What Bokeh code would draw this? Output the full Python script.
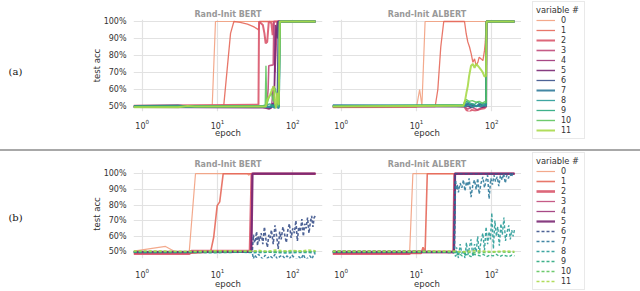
from bokeh.plotting import figure
from bokeh.layouts import row, column
from bokeh.models import Range1d, FixedTicker, NumeralTickFormatter, Legend, LegendItem, Label, Div
from bokeh.embed import file_html
from bokeh.resources import INLINE

# ---------------- data (test accuracy in %, per variable #) ----------------
VARIABLES = [str(i) for i in range(12)]
Y_TICKS = [0.5, 0.6, 0.7, 0.8, 0.9, 1.0]
PANEL_TITLES = ["Rand-Init BERT", "Rand-Init ALBERT"]
ROW_TAGS = ["(a)", "(b)"]

# (a) Rand-Init BERT
A_BERT_X = [
    [0.77, 8.5, 9.4, 200],
    [0.77, 12.1, 14.9, 16.5, 20, 25, 30, 33.7, 35, 36.5, 200],
    [0.77, 35, 35.6, 40, 42, 43.6, 45.7, 48, 52, 54, 56, 200],
    [0.77, 45, 47, 48, 55, 56, 58, 62, 200],
    [0.77, 40, 48, 52, 55, 57, 60, 63, 200],
    [0.77, 45, 50, 54, 56, 59, 62, 64, 200],
    [0.77, 3, 4, 6, 45, 52, 58, 62, 64, 200],
    [0.77, 40, 50, 55, 60, 65, 67, 200],
    [0.77, 45, 52, 58, 63, 66, 68, 200],
    [0.77, 40, 50, 56, 62, 66, 68, 200],
    [0.77, 43, 44, 45, 48, 52, 55, 58, 62, 65, 68, 200],
    [0.77, 3, 4, 5, 44, 46, 50, 53, 56, 58, 60, 62, 65, 67, 200],
]
A_BERT_Y = [
    [49.8, 50, 100, 100],
    [50, 50.5, 93, 100, 99.5, 98.5, 97, 95.7, 95, 100, 100],
    [50.5, 51, 100, 98, 93, 87.2, 88, 100, 99, 92, 100, 100],
    [50, 50, 60, 74, 74.5, 100, 70, 100, 100],
    [49.7, 49.5, 48.5, 49, 62, 55, 95, 100, 100],
    [49.5, 49.3, 48.8, 52, 49, 98, 90, 100, 100],
    [50.5, 50.8, 50.2, 50.5, 50.3, 49.5, 50, 51, 100, 100],
    [50, 50.2, 49.5, 51, 50, 49, 100, 100],
    [49.5, 49.8, 50.5, 49, 52, 50, 100, 100],
    [50.2, 50.5, 51.5, 50, 52, 49.5, 100, 100],
    [50, 50, 74, 51, 55, 58, 53, 61, 56, 50, 100, 100],
    [49.5, 49.5, 50.3, 50, 50, 54, 57, 60, 62, 52, 49, 58, 51, 100, 100],
]

# (a) Rand-Init ALBERT
A_ALBERT_X = [
    [0.77, 10, 11, 11.8, 13, 200],
    [0.77, 17.7, 19.2, 21, 23, 43.4, 45.7, 48, 50.6, 53.3, 56.1, 59, 62, 65.3, 68, 72.3, 76.2, 80, 82, 84.3, 200],
    [0.77, 30, 43, 46, 50, 54, 60, 70, 80, 84, 85, 200],
    [0.77, 43, 48, 55, 65, 75, 84, 85, 200],
    [0.77, 43, 50, 60, 70, 84, 85, 200],
    [0.77, 45, 55, 65, 75, 84, 85, 200],
    [0.77, 44, 48, 52, 58, 64, 70, 77, 84, 85, 200],
    [0.77, 44, 47, 52, 56, 62, 68, 75, 84, 85, 200],
    [0.77, 45, 50, 55, 62, 70, 78, 84, 85, 200],
    [0.77, 43, 46, 52, 58, 64, 72, 84, 85, 200],
    [0.77, 42, 44, 46, 50, 55, 62, 68, 75, 82, 84, 85, 200],
    [0.77, 42, 44, 46, 48, 50, 53, 56, 59, 62, 65, 68, 72, 76, 80, 84, 85, 200],
]
A_ALBERT_Y = [
    [49.3, 49.5, 60, 50.5, 100, 100],
    [49.5, 50, 60, 85, 100, 100, 92.8, 88, 85, 81, 76, 78, 74, 76, 79, 78, 77, 83, 88, 100, 100],
    [50, 50.5, 50, 48, 46.5, 48, 47.5, 48.5, 49, 50, 100, 100],
    [50.2, 50, 48.5, 49.5, 48, 49.5, 50, 100, 100],
    [49.8, 50, 51.5, 50, 51, 50.5, 100, 100],
    [50, 50.3, 49.5, 50.5, 49.5, 50, 100, 100],
    [50.5, 50.5, 51.5, 49.5, 51, 50, 51.5, 50.5, 51, 100, 100],
    [50.8, 50.5, 52, 50.5, 51.5, 50, 51.5, 50.5, 51, 100, 100],
    [50.3, 50, 51, 49.5, 50.5, 49.8, 50.8, 50, 100, 100],
    [50.5, 51, 53, 52, 51, 52.5, 51.5, 52, 100, 100],
    [50, 51, 53.5, 54, 53, 53.5, 52.5, 53, 52, 53, 52, 100, 100],
    [50, 50.5, 53, 58, 62, 68, 74, 75, 72.7, 75, 74, 73, 71.6, 70, 67.6, 68, 100, 100],
]

# (b) Rand-Init BERT
B_BERT_X = [
    [0.77, 2.04, 2.9, 4.2, 5.1, 25, 26, 27, 200],
    [0.77, 4, 8.1, 8.9, 9.9, 10.7, 11.9, 200],
    [0.77, 4.2, 4.5, 27, 28.5, 200],
    [0.77, 28, 28.8, 200],
    [0.77, 28, 29, 200],
    [0.77, 28.2, 29.2, 200],
    [0.77, 28, 29, 30, 31, 32, 33, 34, 35, 36, 38, 40, 42, 44, 46, 48, 50, 52, 55, 58, 61, 64, 67,
     70, 74, 78, 82, 86, 90, 95, 100, 105, 110, 115, 120, 126, 132, 138, 144, 150, 157, 164, 171,
     178, 185, 192, 200],
    [0.77, 28, 29, 30, 31, 33, 35, 37, 40, 43, 46, 50, 54, 58, 62, 67, 72, 78, 84, 90, 97, 104, 112,
     120, 129, 138, 148, 158, 169, 180, 190, 200],
    [0.77, 10, 20, 30, 50, 80, 120, 200],
    [0.77, 30, 60, 100, 200],
    [0.77, 8, 30, 60, 100, 150, 200],
    [0.77, 5, 10, 30, 35, 45, 60, 80, 100, 130, 160, 200],
]
B_BERT_Y = [
    [50.5, 53.5, 49.5, 49.5, 100, 100, 99, 100, 100],
    [49, 49, 50, 59.4, 79.6, 82, 100, 100],
    [48.8, 48.8, 50.5, 50.5, 100, 100],
    [50, 50, 100, 100],
    [50.3, 50.3, 100, 100],
    [49.8, 50, 100, 100],
    [50, 50, 50.5, 61, 56, 58, 63, 54, 60, 57, 62, 55, 66, 58, 53, 61, 59, 64, 55, 67, 60, 52, 63,
     58, 66, 61, 56, 64, 68, 59, 65, 62, 70, 57, 66, 63, 71, 60, 68, 65, 72, 62, 69,
     73, 66, 72, 73],
    [50, 50, 49.5, 45.5, 48, 46.5, 48.5, 47, 45.5, 48, 46, 47.5, 46, 48.5, 45.5, 47, 48, 46, 47.5, 45.5, 48, 46.5, 45,
     47, 45.5, 48.5, 45, 46, 47.5, 45.5, 48.5, 49],
    [49.7, 49.5, 49.8, 49.5, 49.8, 49.3, 49.6, 49.5],
    [50, 50.2, 49.8, 50, 50.2],
    [50.3, 50, 50.5, 50.2, 50.6, 50.3, 50.5],
    [50.6, 50.4, 50.8, 50.5, 51, 50.4, 51.2, 50.6, 51, 50.5, 51.2, 50.8],
]

# (b) Rand-Init ALBERT
B_ALBERT_X = [
    [0.77, 8.1, 8.95, 200],
    [0.77, 11.5, 12.2, 13, 13.9, 200],
    [0.77, 8, 8.5, 31, 32, 200],
    [0.77, 31.5, 32.5, 200],
    [0.77, 31.5, 32.5, 200],
    [0.77, 31.5, 32.5, 200],
    [0.77, 12, 31.5, 32.5, 200],
    [0.77, 32, 33, 34, 35, 36, 38, 40, 42, 44, 46, 48, 50, 53, 56, 59, 62, 65, 68, 72, 76, 80, 84,
     88, 92, 97, 102, 107, 112, 118, 124, 130, 137, 144, 151, 158, 166, 174, 182, 190, 200],
    [0.77, 32, 33, 34, 36, 38, 40, 42, 44, 46, 48, 50, 53, 56, 59, 62, 65, 68, 72, 76, 80, 84, 88,
     92, 96, 100, 105, 110, 115, 120, 126, 132, 138, 145, 152, 160, 168, 176, 184, 192, 200],
    [0.77, 32, 34, 37, 40, 44, 48, 53, 58, 64, 70, 77, 85, 94, 104, 115, 127, 140, 155, 170, 185, 200],
    [0.77, 32, 60, 120, 200],
    [0.77, 32, 40, 60, 100, 150, 200],
]
B_ALBERT_Y = [
    [49.5, 49.5, 100, 100],
    [49, 49, 53, 49.5, 100, 100],
    [48.8, 48.8, 50, 50, 100, 100],
    [50, 50, 100, 100],
    [50.3, 50.3, 100, 100],
    [49.8, 49.8, 100, 100],
    [50.5, 50.5, 49.5, 100, 100],
    [50, 50, 96, 90, 93, 88, 94, 91, 96, 89, 95, 92, 97, 85, 93, 96, 90, 97, 87, 94, 98, 91, 96,
     99, 84, 97, 93, 99, 95, 98, 92, 99, 96, 100, 94, 99, 97, 100, 98, 100, 100],
    [50, 50, 47, 53, 46, 55, 49, 51, 46, 56, 48, 52, 58, 47, 55, 50, 60, 49, 57, 62, 51, 66, 55,
     63, 58, 75, 52, 70, 60, 66, 54, 68, 61, 72, 57, 63, 67, 58, 64, 60, 64],
    [50, 50, 48, 49, 47.5, 48.5, 48, 47, 48.5, 48, 47.5, 48.5, 47, 48, 47.5, 48.5, 47, 48, 47.5, 47, 48, 47.5],
    [50.2, 50, 49.5, 50, 49.8],
    [50.5, 50.5, 50, 50.8, 50.2, 50.6, 50.3],
]

# ---------------- styles ----------------
COLORS = ["#f2a07f", "#e6685a", "#d9576b", "#c04a7a", "#9e3579", "#7a2873",
          "#3b528b", "#2f7a9a", "#2a9c98", "#2aa97e", "#5ec45e", "#a9d94a"]
WIDTHS_A = [1.2, 1.3, 2.0, 1.6, 1.3, 1.5, 1.3, 2.0, 1.3, 1.3, 1.4, 2.0]
DASH_A = ["solid"] * 12
WIDTHS_B = [1.2, 1.6, 2.6, 1.3, 1.3, 2.2, 1.6, 1.5, 1.4, 1.4, 1.6, 1.6]
DASH_B = ["solid"] * 6 + ["3 2"] * 6

FONT = "DejaVu Sans"
TXT = "#333333"
GRID = "#e2e2e2"
X_LIM = (0.766, 248)
YLIM_A = (0.4706, 1.0118)
YLIM_B = (0.4581, 1.0269)


def panel(title, xs, ys, widths, dashes, ylim, first, w, h, mbl, mbr, mbt, mbb, xls, xals):
    p = figure(width=w, height=h, x_axis_type="log", x_range=Range1d(*X_LIM),
               y_range=Range1d(*ylim), output_backend="svg", toolbar_location=None,
               min_border_left=mbl, min_border_right=mbr, min_border_top=mbt,
               min_border_bottom=mbb, title=title)
    p.title.align = "center"
    p.title.text_font = FONT
    p.title.text_font_size = "8px"
    p.title.text_font_style = "bold"
    p.title.text_color = "#999999"
    p.title.standoff = 1
    p.title.offset = 0
    p.outline_line_color = None
    p.background_fill_color = "white"
    p.border_fill_color = "white"
    for ax in p.axis:
        ax.axis_line_color = None
        ax.major_tick_line_color = None
        ax.minor_tick_line_color = None
        ax.major_label_text_font = FONT
        ax.major_label_text_font_size = "8px"
        ax.major_label_text_color = TXT
        ax.axis_label_text_font = FONT
        ax.axis_label_text_font_size = "8.5px"
        ax.axis_label_text_font_style = "normal"
        ax.axis_label_text_color = TXT
    p.xaxis.axis_label = "epoch"
    p.xaxis.major_label_standoff = xls
    p.xaxis.axis_label_standoff = xals
    p.yaxis.ticker = FixedTicker(ticks=Y_TICKS)
    p.ygrid.ticker = FixedTicker(ticks=Y_TICKS)
    p.yaxis.formatter = NumeralTickFormatter(format="0%")
    p.yaxis.major_label_standoff = 1
    p.yaxis.axis_label_standoff = -1
    if first:
        p.yaxis.axis_label = "test acc"
    else:
        p.yaxis.visible = False
    p.xgrid.grid_line_color = GRID
    p.ygrid.grid_line_color = GRID
    p.xgrid.grid_line_width = 1.2
    p.ygrid.grid_line_width = 1.2
    for i in range(len(VARIABLES)):
        p.line(xs[i], [v / 100 for v in ys[i]], line_color=COLORS[i], line_width=widths[i],
               line_dash=dashes[i], line_alpha=0.9)
    return p


def bare(w, h, **kw):
    p = figure(width=w, height=h, x_range=Range1d(0, 1), y_range=Range1d(0, 1), title=None,
               output_backend="svg", toolbar_location=None, **kw)
    p.axis.visible = False
    p.grid.visible = False
    p.outline_line_color = None
    return p


def legend_fig(h, widths, dashes):
    p = bare(119, h, min_border_left=11, min_border_top=1, min_border_right=0,
             min_border_bottom=0)
    items = []
    for i, name in enumerate(VARIABLES):
        r = p.line([float("nan")], [float("nan")], line_color=COLORS[i], line_width=widths[i],
                   line_dash=dashes[i], line_alpha=0.9)
        items.append(LegendItem(label=name, renderers=[r]))
    leg = Legend(items=items, location="top_left", title="variable #",
                 title_text_font=FONT, title_text_font_size="8.3px",
                 title_text_font_style="normal", title_text_color=TXT, title_standoff=0,
                 label_text_font=FONT, label_text_font_size="8px", label_text_color=TXT,
                 label_height=10, glyph_height=8, glyph_width=19, label_standoff=6,
                 spacing=0, padding=3, margin=0, border_line_color="#d4d4d4",
                 border_line_width=1, background_fill_color="white", background_fill_alpha=1)
    p.add_layout(leg)
    return p


def tag_fig(text, h, y_from_frame_bottom, frame_top, frame_bottom):
    p = bare(60, h, min_border_left=0, min_border_right=0, min_border_top=frame_top,
             min_border_bottom=frame_bottom)
    p.add_layout(Label(x=15, y=y_from_frame_bottom, x_units="screen", y_units="screen", text=text,
                       text_align="center", text_baseline="middle", text_font="DejaVu Serif",
                       text_font_size="10px", text_color="#111111"))
    return p


def rule(w):
    return Div(text="", width=w, height=2, margin=0,
               styles={"background-color": "#a8a8a8", "width": f"{w}px", "height": "2px"})


HA, HB = 149, 140
TA, BA = 19, 38
TB, BB = 18, 31
row_a = row(
    tag_fig(ROW_TAGS[0], HA, 40, TA, BA),
    panel(PANEL_TITLES[0], A_BERT_X, A_BERT_Y, WIDTHS_A, DASH_A, YLIM_A, True, 267, HA, 73, 5, TA, BA, 1, -4),
    panel(PANEL_TITLES[1], A_ALBERT_X, A_ALBERT_Y, WIDTHS_A, DASH_A, YLIM_A, False, 194, HA, 5, 0, TA, BA, 1, -4),
)
row_b = row(
    tag_fig(ROW_TAGS[1], HB, 41, TB, BB),
    panel(PANEL_TITLES[0], B_BERT_X, B_BERT_Y, WIDTHS_B, DASH_B, YLIM_B, True, 267, HB, 73, 5, TB, BB, 3, -2),
    panel(PANEL_TITLES[1], B_ALBERT_X, B_ALBERT_Y, WIDTHS_B, DASH_B, YLIM_B, False, 194, HB, 5, 0, TB, BB, 3, -2),
)
left_block = column(row_a, rule(521), row_b)
right_block = column(legend_fig(HA, WIDTHS_A, DASH_A), rule(119), legend_fig(HB, WIDTHS_B, DASH_B))

layout = row(left_block, right_block)

open("out.html", "w").write(file_html(layout, INLINE))
